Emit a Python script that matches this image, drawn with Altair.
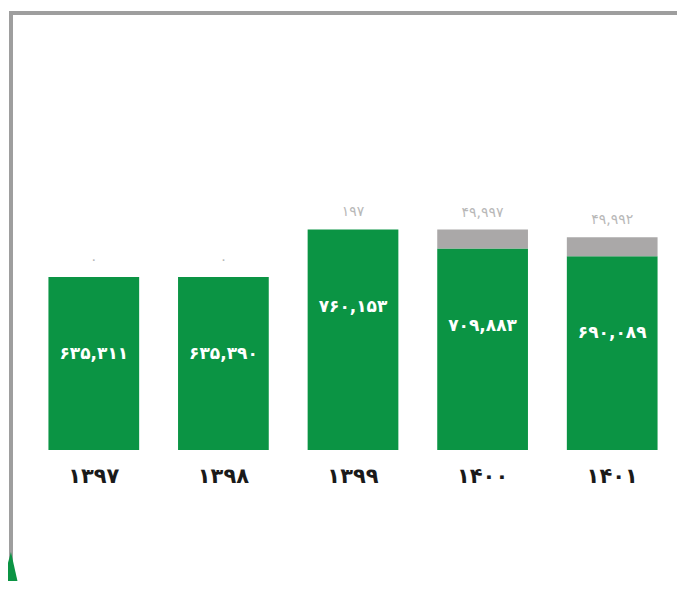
import altair as alt
import pandas as pd

years = ["1397", "1398", "1399", "1400", "1401"]
green_vals = [635311, 635390, 760153, 709883, 690089]
gray_vals = [0, 0, 197, 49997, 49992]

FA = str.maketrans("0123456789", "۰۱۲۳۴۵۶۷۸۹")


def fa_num(v):
    return f"{v:,}".translate(FA)


df = pd.DataFrame({
    "year": [y.translate(FA) for y in years],
    "green": green_vals,
    "gray": gray_vals,
})
df["total"] = df["green"] + df["gray"]
df["green_lbl"] = [fa_num(v) for v in green_vals]
df["gray_lbl"] = [fa_num(v) for v in gray_vals]

FONT = "DejaVu Sans"
GREEN = "#0b9444"
GRAYBAR = "#aaa8a8"
GRAYTXT = "#b8b8b8"
FRAME = "#9e9e9e"

order = list(df["year"])
x = alt.X("year:N", sort=order, title=None,
          scale=alt.Scale(paddingInner=0.3, paddingOuter=0.15),
          axis=alt.Axis(domain=False, ticks=False, grid=False, labelAngle=0,
                        labelFont=FONT, labelFontSize=21, labelFontWeight="bold",
                        labelColor="#1a1a1a", labelPadding=15))
yscale = alt.Scale(domain=[180000, 1343000], clamp=True, zero=False)

base = alt.Chart(df)

green_bar = base.mark_bar(color=GREEN).encode(
    x=x,
    y=alt.Y("green:Q", scale=yscale, axis=None),
)
gray_bar = base.mark_bar(color=GRAYBAR).encode(
    x=x,
    y=alt.Y("total:Q", scale=yscale, axis=None),
    y2="green:Q",
)
green_txt = base.mark_text(color="white", font=FONT, fontSize=17, fontWeight="bold",
                           baseline="middle", dy=77).encode(
    x=x, y=alt.Y("green:Q", scale=yscale, axis=None), text="green_lbl:N")
gray_txt = base.mark_text(color=GRAYTXT, font=FONT, fontSize=14,
                          baseline="middle", dy=-17).encode(
    x=x, y=alt.Y("total:Q", scale=yscale, axis=None), text="gray_lbl:N")

one = alt.Chart(pd.DataFrame({"a": [0]}))
top_line = one.mark_rule(color=FRAME, strokeWidth=4).encode(
    x=alt.value(-20), x2=alt.value(670), y=alt.value(5))
left_line = one.mark_rule(color=FRAME, strokeWidth=4).encode(
    x=alt.value(-18), y=alt.value(3), y2=alt.value(600))
leaf = one.mark_point(shape="M0.05,-1L0.5,1L-0.5,1Z", filled=True, opacity=1,
                      color=GREEN, size=1444).encode(
    x=alt.value(-19), y=alt.value(563))

chart = alt.layer(top_line, left_line, leaf, green_bar, gray_bar, green_txt, gray_txt).properties(
    width=648, height=442,
    autosize="none",
    padding={"left": 21, "top": 0, "right": 0, "bottom": 131},
    background="white",
).configure_view(strokeWidth=0)

chart.save("out.html", embed_options={"renderer": "svg", "actions": False})
